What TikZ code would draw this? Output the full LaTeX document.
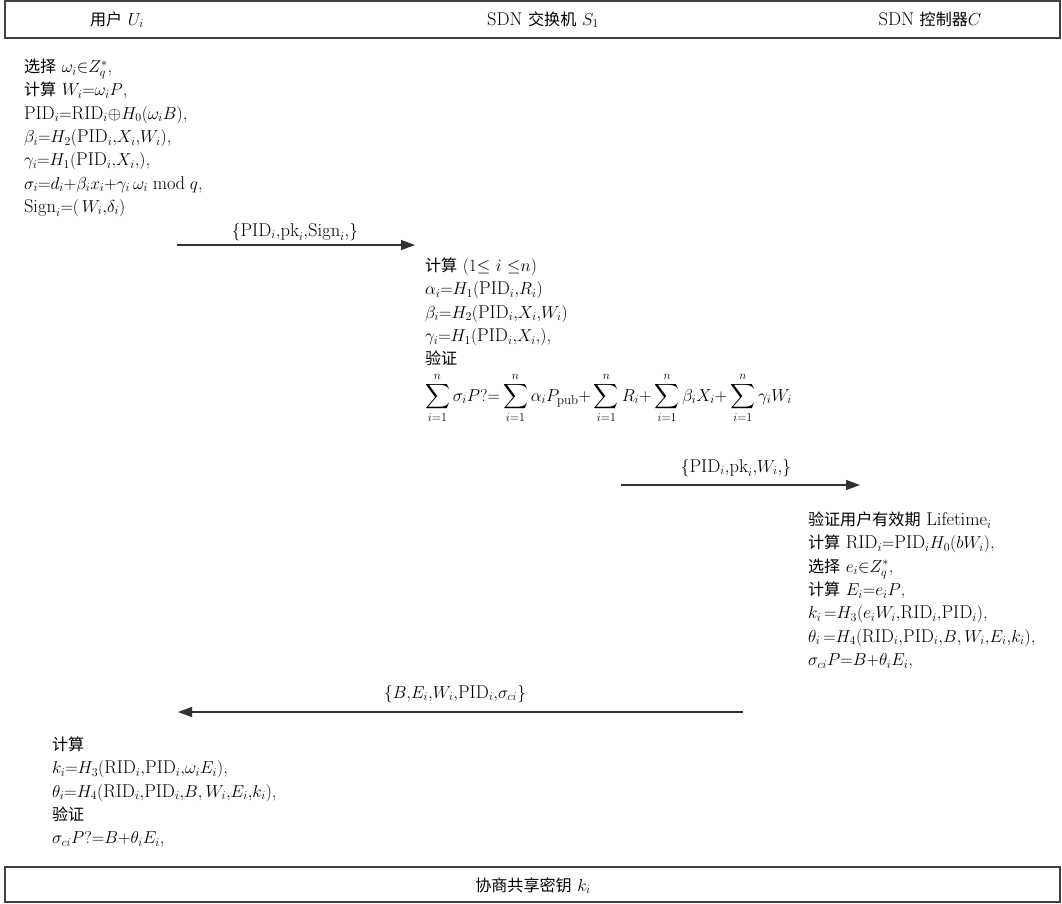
\documentclass[tikz,border=0pt]{standalone}
\usepackage{amsmath}
\usepackage{fontspec}
\newfontfamily\cjk[Scale=0.87]{Noto Sans CJK SC}
\usetikzlibrary{arrows.meta}
\begin{document}
\begin{tikzpicture}[x=1pt,y=-1pt,
  every node/.style={inner sep=0pt,outer sep=0pt},
  txt/.style={font=\fontsize{18.5}{23.3}\selectfont, align=left, anchor=north west},
  lbl/.style={font=\fontsize{18.5}{20}\selectfont, anchor=base},
  frame/.style={draw=black!75, line width=1.3pt},
  msg/.style={draw=black!80, line width=1.3pt, -{Triangle[length=14pt,width=10pt]}}
]
\useasboundingbox (0,0) rectangle (1062,903);
% header
\node[frame, minimum width=1055pt, minimum height=37pt, anchor=north west] (head) at (5,1) {};
\node[lbl] (hu) at (117,25) {{\cjk 用户} $U_i$};
\node[lbl] (hs) at (543,25) {SDN {\cjk 交换机} $S_1$};
\node[lbl] (hc) at (930,25) {SDN {\cjk 控制器}$C$};
% user block
\node[txt] (ub) at (24,59) {{\cjk 选择} $\omega_i{\in}Z_q^*$,\\
{\cjk 计算} $W_i{=}\omega_iP$,\\
$\mathrm{PID}_i{=}\mathrm{RID}_i{\oplus}H_0(\omega_iB)$,\\
$\beta_i{=}H_2(\mathrm{PID}_i{,}X_i{,}W_i)$,\\
$\gamma_i{=}H_1(\mathrm{PID}_i{,}X_i{,})$,\\
$\sigma_i{=}d_i{+}\beta_ix_i{+}\gamma_i\,\omega_i\bmod q$,\\
$\mathrm{Sign}_i{=}(\,W_i{,}\delta_i)$};
% message 1
\coordinate (m1s) at (177,245);
\coordinate (m1e) at (415,245);
\draw[msg] (m1s) -- (m1e);
\node[lbl] (l1) at (295,236) {$\{\mathrm{PID}_i{,}\mathrm{pk}_i{,}\mathrm{Sign}_i{,}\}$};
% switch block
\node[txt] (sb) at (425,258) {{\cjk 计算} $(1{\le}\ i\ {\le}n)$\\
$\alpha_i{=}H_1(\mathrm{PID}_i{,}R_i)$\\
$\beta_i{=}H_2(\mathrm{PID}_i{,}X_i{,}W_i)$\\
$\gamma_i{=}H_1(\mathrm{PID}_i{,}X_i{,})$,\\
{\cjk 验证}};
\node[font=\fontsize{18.5}{23}\selectfont, anchor=west] (sum) at (425,398) {$\displaystyle\sum_{i=1}^{n}\sigma_iP?{=}\sum_{i=1}^{n}\alpha_iP_{\mathrm{pub}}{+}\sum_{i=1}^{n}R_i{+}\sum_{i=1}^{n}\beta_iX_i{+}\sum_{i=1}^{n}\gamma_iW_i$};
% message 2
\coordinate (m2s) at (621,485);
\coordinate (m2e) at (860,485);
\draw[msg] (m2s) -- (m2e);
\node[lbl] (l2) at (736,472) {$\{\mathrm{PID}_i{,}\mathrm{pk}_i{,}W_i{,}\}$};
% controller block
\node[txt] (cb) at (808,512) {{\cjk 验证用户有效期} $\mathrm{Lifetime}_i$\\
{\cjk 计算} $\mathrm{RID}_i{=}\mathrm{PID}_iH_0(bW_i)$,\\
{\cjk 选择} $e_i{\in}Z_q^*$,\\
{\cjk 计算} $E_i{=}e_iP$,\\
$k_i\,{=}H_3(e_iW_i{,}\mathrm{RID}_i{,}\mathrm{PID}_i)$,\\
$\theta_i\,{=}H_4(\mathrm{RID}_i{,}\mathrm{PID}_i{,}B,W_i{,}E_i{,}k_i)$,\\
$\sigma_{ci}P{=}B{+}\theta_iE_i$,};
% message 3
\coordinate (m3s) at (743,712);
\coordinate (m3e) at (178,712);
\draw[msg] (m3s) -- (m3e);
\node[lbl] (l3) at (455,698) {$\{B{,}E_i{,}W_i{,}\mathrm{PID}_i{,}\sigma_{ci}\}$};
% final user block
\node[txt] (fb) at (52,737) {{\cjk 计算}\\
$k_i{=}H_3(\mathrm{RID}_i{,}\mathrm{PID}_i{,}\omega_iE_i)$,\\
$\theta_i{=}H_4(\mathrm{RID}_i{,}\mathrm{PID}_i{,}B,W_i{,}E_i{,}k_i)$,\\
{\cjk 验证}\\
$\sigma_{ci}P?{=}B{+}\theta_iE_i$,};
% bottom
\node[frame, minimum width=1055pt, minimum height=35pt, anchor=north west] (foot) at (5,867) {};
\node[lbl] (fk) at (533,891) {{\cjk 协商共享密钥} $k_i$};
\end{tikzpicture}
\end{document}
